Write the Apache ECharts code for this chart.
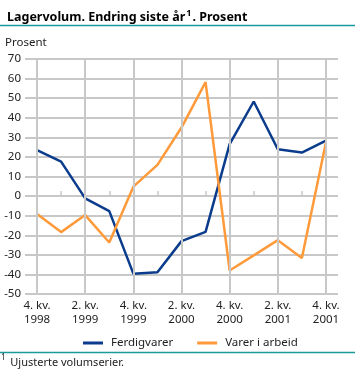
<!DOCTYPE html>
<html><head><meta charset="utf-8">
<script src="https://cdn.jsdelivr.net/npm/echarts@6/dist/echarts.min.js"></script>
<style>html,body{margin:0;padding:0;background:#fff}#c{width:355px;height:370px}</style>
</head><body><div id="c"></div>
<script>
const categories = ['4. kv.\n1998','1. kv.\n1999','2. kv.\n1999','3. kv.\n1999','4. kv.\n1999','1. kv.\n2000','2. kv.\n2000','3. kv.\n2000','4. kv.\n2000','1. kv.\n2001','2. kv.\n2001','3. kv.\n2001','4. kv.\n2001'];
const ferdigvarer = [23.5, 17.6, -1.2, -7.7, -39.6, -38.9, -23, -18.3, 26.5, 48.3, 23.9, 22.2, 28.3];
const varerIArbeid = [-9.2, -18.4, -9.7, -23.7, 4.8, 15.9, 35, 58.2, -38, -30.3, -22.5, -31.6, 27.5];
const yTicks = {min: -50, max: 70, interval: 10};

const FONT = "'Noto Sans', sans-serif";
const GRID = '#c8c8c8';
const vLines = categories.map((c, i) => i).filter(i => i % 2 === 0).map(i => ({xAxis: i}));
const zeroTicks = categories.map((c, i) => i).filter(i => i % 2 === 1)
  .map(i => [{coord: [i, 0]}, {coord: [i, 2.6]}]);

const chart = echarts.init(document.getElementById('c'), null, {renderer: 'canvas'});
chart.setOption({
  animation: false,
  textStyle: {fontFamily: FONT},
  title: [
    {text: '{t|Lagervolum. Endring siste år}{s|1}{t|. Prosent}', left: 2, top: 4,
     textStyle: {rich: {t: {fontFamily: FONT, fontWeight: 'bold', fontSize: 12.5, color: '#000'},
                        s: {fontFamily: FONT, fontWeight: 'bold', fontSize: 9, color: '#000', verticalAlign: 'top', padding: [0,1,7,1]}}}},
    {text: 'Prosent', left: 0, top: 32, textStyle: {fontFamily: FONT, fontWeight: 'normal', fontSize: 11.5, color: '#222'}},
    {text: '{s|1} {t|Ujusterte volumserier.}', left: 1, top: 354, padding: 0,
     textStyle: {rich: {t: {fontFamily: FONT, fontWeight: 'normal', fontSize: 11, color: '#222', lineHeight: 16},
                        s: {fontFamily: FONT, fontWeight: 'normal', fontSize: 8, color: '#222', verticalAlign: 'top', lineHeight: 16}}}}
  ],
  graphic: [
    {type: 'line', shape: {x1: 0, y1: 25.5, x2: 355, y2: 25.5}, style: {stroke: '#1a9a9a', lineWidth: 1.5}},
    {type: 'line', shape: {x1: 0, y1: 352.5, x2: 355, y2: 352.5}, style: {stroke: '#1a9a9a', lineWidth: 1.5}}
  ],
  legend: {
    left: 78, top: 332, itemGap: 24, itemWidth: 20, itemHeight: 3, icon: 'rect',
    textStyle: {fontFamily: FONT, fontSize: 11.5, color: '#222', padding: [0,0,0,3]},
    data: ['Ferdigvarer', 'Varer i arbeid']
  },
  grid: {left: 25, right: 17, top: 59, bottom: 76, containLabel: false},
  xAxis: {type: 'category', data: categories, boundaryGap: true,
     axisLine: {show: false}, axisTick: {show: false},
     axisLabel: {interval: 1, color: '#222', fontSize: 11.5, lineHeight: 14, margin: 5, fontFamily: FONT},
     splitLine: {show: false}},
  yAxis: {type: 'value', min: yTicks.min, max: yTicks.max, interval: yTicks.interval,
    axisLine: {show: false}, axisTick: {show: false},
    axisLabel: {color: '#222', fontSize: 11.5, margin: 4, fontFamily: FONT},
    splitLine: {lineStyle: {color: GRID, width: 2}}},
  series: [
    {name: 'grid', type: 'line', data: [], silent: true, z: 1,
     markLine: {silent: true, symbol: ['none', 'none'], label: {show: false}, animation: false,
       lineStyle: {color: GRID, width: 2, type: 'solid'}, emphasis: {disabled: true},
       data: vLines}},
    {name: 'ticks', type: 'line', data: [], silent: true, z: 1,
     markLine: {silent: true, symbol: ['none', 'none'], label: {show: false}, animation: false,
       lineStyle: {color: GRID, width: 1.5, type: 'solid'}, emphasis: {disabled: true},
       data: zeroTicks}},
    {name: 'Ferdigvarer', type: 'line', data: ferdigvarer, symbol: 'none', z: 3,
     lineStyle: {color: '#0a3b8c', width: 2.5}, itemStyle: {color: '#0a3b8c'}},
    {name: 'Varer i arbeid', type: 'line', data: varerIArbeid, symbol: 'none', z: 3,
     lineStyle: {color: '#ff9a3a', width: 2.5}, itemStyle: {color: '#ff9a3a'}}
  ]
});
</script></body></html>
